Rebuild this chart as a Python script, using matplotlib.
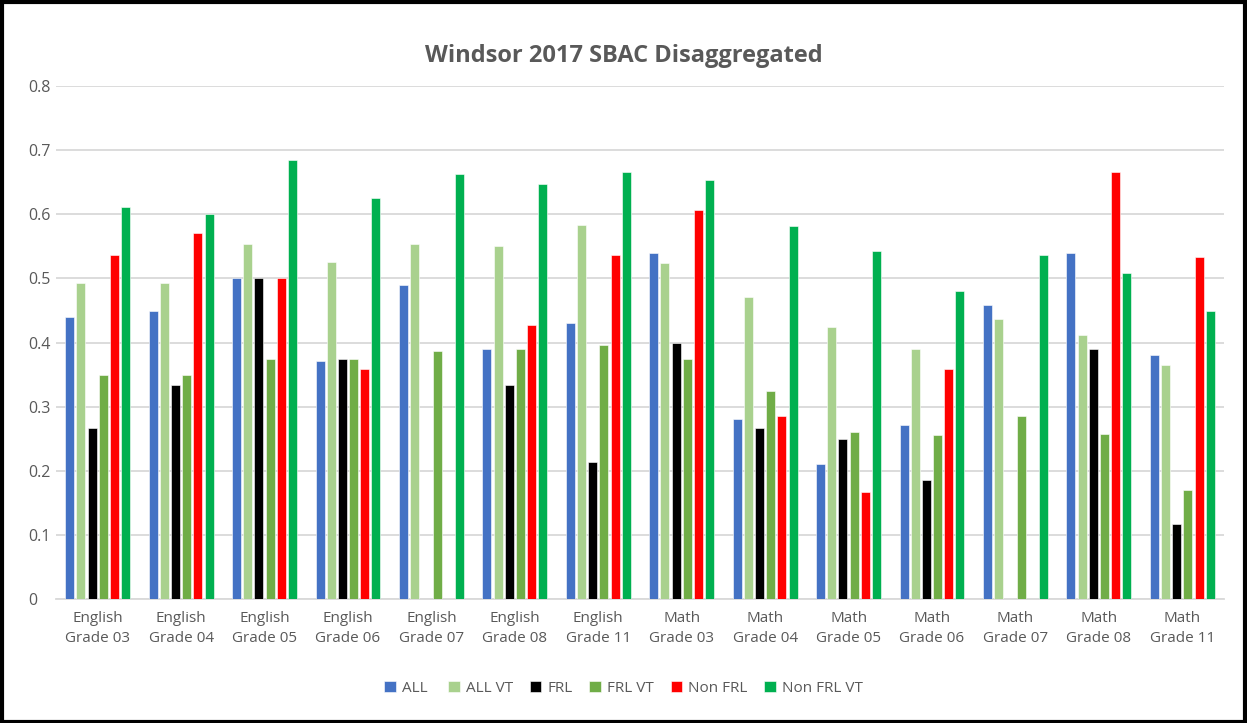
import numpy as np
import matplotlib
matplotlib.use("Agg")
import matplotlib.pyplot as plt
from matplotlib.patches import Rectangle

plt.rcParams['font.family'] = ['Open Sans', 'DejaVu Sans']

categories = ["English\nGrade 03", "English\nGrade 04", "English\nGrade 05", "English\nGrade 06",
              "English\nGrade 07", "English\nGrade 08", "English\nGrade 11", "Math\nGrade 03",
              "Math\nGrade 04", "Math\nGrade 05", "Math\nGrade 06", "Math\nGrade 07",
              "Math\nGrade 08", "Math\nGrade 11"]
series_names = ["ALL ", "ALL VT", "FRL", "FRL VT", "Non FRL", "Non FRL VT"]

all_vals      = [0.440, 0.449, 0.500, 0.371, 0.490, 0.390, 0.431, 0.540, 0.280, 0.211, 0.271, 0.459, 0.540, 0.381]
all_vt        = [0.493, 0.493, 0.553, 0.525, 0.553, 0.550, 0.584, 0.524, 0.471, 0.424, 0.390, 0.437, 0.412, 0.365]
frl           = [0.267, 0.333, 0.500, 0.375, np.nan, 0.333, 0.214, 0.400, 0.267, 0.249, 0.186, np.nan, 0.390, 0.117]
frl_vt        = [0.349, 0.349, 0.375, 0.375, 0.387, 0.390, 0.396, 0.375, 0.324, 0.261, 0.255, 0.286, 0.258, 0.170]
non_frl       = [0.536, 0.571, 0.500, 0.359, np.nan, 0.428, 0.536, 0.606, 0.286, 0.167, 0.358, np.nan, 0.666, 0.533]
non_frl_vt    = [0.612, 0.600, 0.684, 0.625, 0.663, 0.647, 0.666, 0.653, 0.581, 0.543, 0.480, 0.537, 0.508, 0.449]

series = [all_vals, all_vt, frl, frl_vt, non_frl, non_frl_vt]
colors = ["#4472C4", "#A9D18E", "#000000", "#70AD47", "#FF0000", "#00B050"]

W, H = 1247, 723
fig = plt.figure(figsize=(W/100, H/100), dpi=100)
ax = fig.add_axes([56/W, 1-599/H, (1224-56)/W, (599-86)/H])

x = np.arange(len(categories))
step = 0.134
width = 0.108
for i, (vals, c, name) in enumerate(zip(series, colors, series_names)):
    ax.bar(x + (i-2.5)*step, vals, width=width, color=c, label=name, zorder=3,
           edgecolor='white', linewidth=0.4)

ax.set_xlim(-0.5, len(categories)-0.5)
ax.set_ylim(0, 0.8)
ax.set_yticks(np.arange(0, 0.81, 0.1))
ax.set_yticklabels(["0", "0.1", "0.2", "0.3", "0.4", "0.5", "0.6", "0.7", "0.8"])
ax.yaxis.grid(True, color="#D9D9D9", linewidth=1.3, zorder=0)
ax.set_axisbelow(True)
for s in ["top", "right", "left"]:
    ax.spines[s].set_visible(False)
ax.spines["bottom"].set_color("#D9D9D9")
ax.spines["bottom"].set_linewidth(1.3)
ax.tick_params(axis='y', length=0, pad=20, labelsize=11.5, labelcolor="#595959")
for lbl in ax.get_yticklabels():
    lbl.set_horizontalalignment('left')
ax.set_xticks(x)
ax.set_xticklabels(categories, fontsize=11, color="#595959", linespacing=1.45)
ax.tick_params(axis='x', length=0, pad=9)

fig.text(0.5, 1-56/H, "Windsor 2017 SBAC Disaggregated", ha='center', va='center',
         fontsize=17, fontweight='bold', color="#595959")

leg = fig.legend(loc='center', bbox_to_anchor=(0.5, 1-688/H), ncol=6, frameon=False,
                 fontsize=11, handlelength=0.75, handleheight=0.75, handletextpad=0.4,
                 columnspacing=1.1)
for t in leg.get_texts():
    t.set_color("#595959")

fig.patches.append(Rectangle((1.5/W, 1.5/H), 1-4/W, 1-3/H, transform=fig.transFigure,
                             fill=False, edgecolor='black', linewidth=3))

fig.savefig("out.png", dpi=100)
